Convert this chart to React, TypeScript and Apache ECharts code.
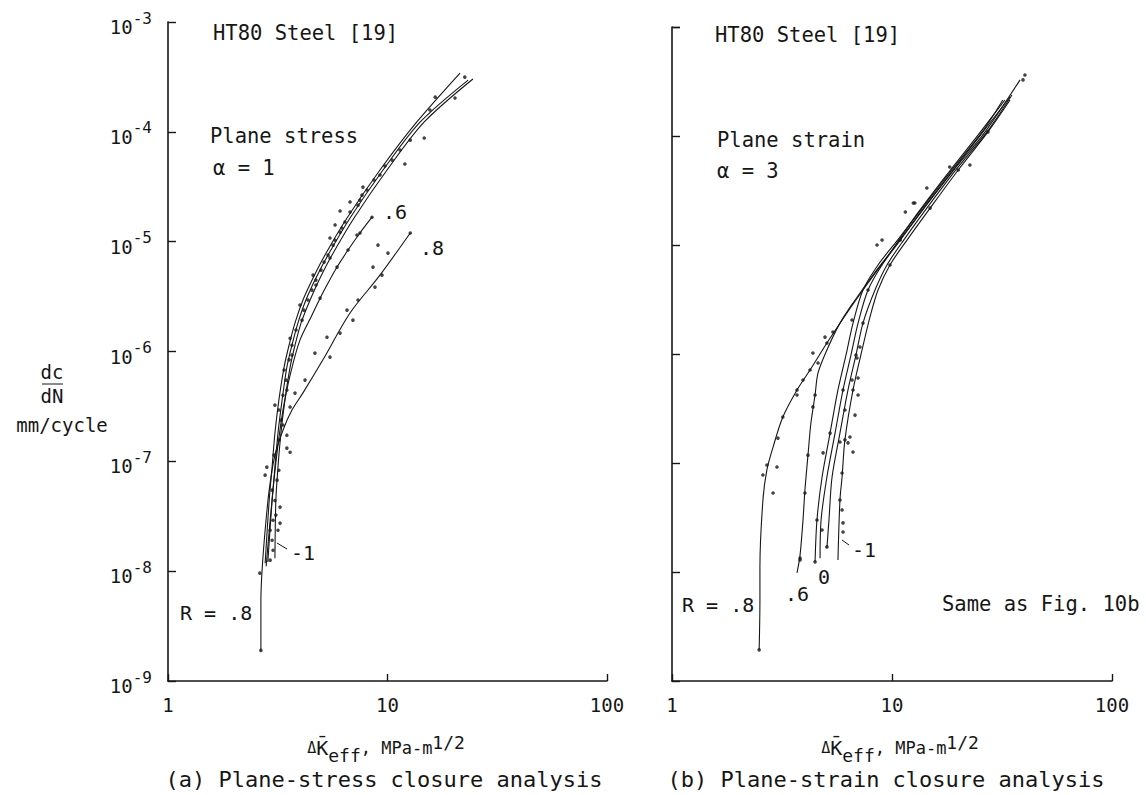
import React, { useEffect, useRef } from "react";
import * as echarts from "echarts";

const FONT = "'DejaVu Sans Mono', 'Liberation Mono', monospace";
const INK = "#161616";

// ---------- (a) plane stress, alpha = 1 : fitted curves [dKeff MPa-m^1/2, dc/dN mm/cycle]
const stressR08 = [[2.65, 1.9e-9], [2.65, 5.4e-9], [2.68, 9.8e-9], [2.77, 2.36e-8], [2.89, 5.47e-8], [3.07, 1.14e-7], [3.34, 1.92e-7], [3.67, 2.93e-7], [4.12, 4.2e-7], [5.08, 8.4e-7], [6.75, 2.24e-6], [9.24, 4.96e-6], [12.7, 1.2e-5]];
const stressR06 = [[2.8, 1.11e-8], [2.92, 2.91e-8], [3.04, 6.74e-8], [3.17, 1.41e-7], [3.34, 2.93e-7], [3.6, 6.1e-7], [3.99, 1.27e-6], [4.53, 2.15e-6], [4.93, 3.06e-6], [5.36, 4.2e-6], [5.89, 5.87e-6], [6.61, 8.39e-6], [7.49, 1.2e-5], [8.5, 1.67e-5]];
const stressRa = [[2.77, 1.18e-8], [2.89, 4.4e-8], [2.98, 8.85e-8], [3.07, 1.81e-7], [3.2, 3.61e-7], [3.38, 7.21e-7], [3.56, 1.14e-6], [3.79, 1.82e-6], [4.12, 2.94e-6], [4.58, 4.66e-6], [5.19, 7.55e-6], [6.54, 1.64e-5], [9.24, 4.49e-5], [13.6, 1.23e-4], [21.4, 3.43e-4]];
const stressR0 = [[2.85, 1.21e-8], [2.98, 4.4e-8], [3.07, 8.85e-8], [3.17, 1.81e-7], [3.31, 3.61e-7], [3.48, 7.21e-7], [3.67, 1.14e-6], [3.91, 1.82e-6], [4.25, 2.94e-6], [4.72, 4.66e-6], [5.36, 7.55e-6], [6.75, 1.64e-5], [9.54, 4.49e-5], [14.1, 1.23e-4], [23.3, 2.96e-4]];
const stressRm1 = [[3.07, 1.31e-8], [3.1, 4.4e-8], [3.17, 8.85e-8], [3.27, 1.81e-7], [3.41, 3.61e-7], [3.6, 7.21e-7], [3.79, 1.14e-6], [4.04, 1.82e-6], [4.44, 2.94e-6], [4.93, 4.66e-6], [5.59, 7.55e-6], [7.04, 1.64e-5], [9.95, 4.49e-5], [14.7, 1.23e-4], [24.5, 3.03e-4]];

// (a) measured points
const stressPoints = [
  [16.5, 2.07e-4], [20.3, 2.03e-4], [22.5, 3.15e-4], [14.7, 8.78e-5], [12.0, 5.09e-5], [9.74, 4.88e-5], [7.73, 3.14e-5],
  [6.75, 2.3e-5], [6.08, 1.9e-5], [5.77, 1.42e-5], [5.47, 1.08e-5], [7.26, 1.15e-5], [9.05, 9.31e-6], [10.05, 7.87e-6],
  [8.59, 5.87e-6], [9.44, 4.96e-6], [8.77, 3.86e-6], [7.34, 2.94e-6], [6.54, 2.38e-6], [6.96, 1.93e-6], [6.08, 1.47e-6],
  [5.3, 1.35e-6], [4.67, 9.67e-7], [5.47, 8.89e-7], [4.21, 5.49e-7], [3.79, 4.18e-7], [3.6, 3.12e-7], [3.48, 1.73e-7],
  [3.07, 3.25e-7], [2.82, 8.85e-8], [2.77, 7.48e-8], [3.6, 1.21e-7], [3.48, 1.32e-7], [3.24, 3.83e-8], [3.24, 2.74e-8],
  [3.17, 2.36e-8], [2.62, 9.6e-9], [2.65, 1.9e-9], [2.98, 1.91e-8], [3.01, 2.91e-8], [3.07, 4.4e-8], [3.14, 6.74e-8],
  [3.2, 1.56e-7], [3.27, 2.37e-7], [3.34, 4.0e-7], [3.45, 5.49e-7], [3.56, 8.4e-7], [3.67, 1.14e-6], [3.83, 1.57e-6],
  [4.16, 2.38e-6], [4.34, 2.94e-6], [4.53, 3.62e-6], [4.72, 4.47e-6], [4.98, 5.5e-6], [5.14, 6.52e-6], [5.36, 7.55e-6],
  [5.65, 9.3e-6], [6.08, 1.22e-5], [6.4, 1.51e-5], [6.75, 1.86e-5], [7.49, 2.39e-5], [8.07, 2.95e-5], [8.68, 3.64e-5],
  [10.5, 5.53e-5], [11.4, 6.83e-5], [5.89, 5.87e-6], [6.61, 8.39e-6], [7.49, 1.2e-5], [8.5, 1.67e-5], [4.93, 3.06e-6],
  [12.7, 1.2e-5], [2.92, 1.26e-8], [3.01, 1.55e-8], [2.92, 2.36e-8], [3.1, 3.24e-8], [2.98, 5.47e-8], [3.2, 8.3e-8],
  [3.04, 1.14e-7], [3.34, 2.14e-7], [3.2, 2.93e-7], [3.48, 4.45e-7], [3.38, 6.78e-7], [3.67, 9.27e-7], [3.6, 1.32e-6],
  [4.08, 1.93e-6], [3.99, 2.65e-6], [4.72, 4.03e-6], [4.58, 4.96e-6], [5.47, 7.1e-6], [5.77, 1.03e-5], [6.2, 1.33e-5],
  [7.34, 2.15e-5], [7.65, 2.65e-5], [9.24, 4.05e-5], [12.7, 8.41e-5], [15.6, 1.58e-4]
];

// ---------- (b) plane strain, alpha = 3 : fitted curves
const strainR08 = [[2.49, 1.93e-9], [2.51, 5.53e-9], [2.51, 1.11e-8], [2.59, 4.58e-8], [2.7, 8.63e-8], [2.88, 1.4e-7], [3.19, 2.64e-7], [3.7, 4.68e-7], [4.24, 7.13e-7], [5.06, 1.26e-6], [6.24, 2.38e-6], [7.78, 4.48e-6], [9.79, 8.45e-6], [13.1, 1.97e-5], [18.0, 4.58e-5], [24.6, 1.02e-4], [32.6, 2.14e-4]];
const strainR06 = [[3.7, 9.8e-9], [3.82, 1.43e-8], [3.94, 3.0e-8], [4.02, 5.65e-8], [4.15, 1.18e-7], [4.28, 2.33e-7], [4.47, 4.21e-7], [4.61, 6.7e-7], [5.06, 1.09e-6], [5.8, 1.92e-6], [6.65, 2.94e-6], [8.2, 5.31e-6], [10.3, 9.6e-6], [13.7, 2.09e-5], [18.7, 4.68e-5], [25.7, 1.07e-4], [34.4, 2.28e-4]];
const strainRa = [[4.47, 1.24e-8], [4.56, 3.0e-8], [4.81, 7.44e-8], [5.23, 1.88e-7], [5.68, 4.68e-7], [6.18, 9.8e-7], [6.65, 1.92e-6], [7.38, 3.86e-6], [8.64, 6.56e-6], [10.6, 1.11e-5], [13.7, 2.18e-5], [18.7, 4.88e-5], [25.7, 1.09e-4], [31.9, 2.14e-4]];
const strainRb = [[4.71, 1.34e-8], [4.76, 3.0e-8], [5.06, 7.44e-8], [5.51, 1.88e-7], [5.99, 4.68e-7], [6.51, 9.8e-7], [7.01, 1.92e-6], [7.78, 3.86e-6], [9.01, 6.56e-6], [10.9, 1.11e-5], [14.0, 2.18e-5], [19.1, 4.88e-5], [26.5, 1.09e-4], [38.2, 3.27e-4]];
const strainR0 = [[5.06, 1.66e-8], [5.17, 3.0e-8], [5.34, 7.44e-8], [5.8, 1.88e-7], [6.31, 4.68e-7], [6.86, 9.8e-7], [7.38, 1.92e-6], [8.37, 3.86e-6], [9.49, 6.56e-6], [11.3, 1.11e-5], [14.4, 2.18e-5], [19.5, 4.88e-5], [27.0, 1.09e-4], [35.1, 2.38e-4]];
const strainRm1 = [[5.68, 1.29e-8], [5.8, 4.58e-8], [5.93, 7.44e-8], [6.11, 1.63e-7], [6.65, 4.68e-7], [7.31, 1.09e-6], [7.94, 2.18e-6], [8.64, 3.86e-6], [9.79, 6.56e-6], [11.7, 1.11e-5], [14.9, 2.18e-5], [20.0, 4.88e-5], [27.3, 1.09e-4], [34.4, 2.14e-4]];

// (b) measured points
const strainPoints = [
  [2.49, 1.93e-9], [2.59, 7.76e-8], [2.7, 9.59e-8], [3.0, 9.19e-8], [2.88, 5.31e-8], [3.03, 1.69e-7], [3.7, 4.21e-7],
  [4.37, 3.27e-7], [4.37, 1.02e-6], [4.61, 8.27e-7], [3.94, 5.77e-7], [4.96, 1.43e-6], [5.39, 1.59e-6], [6.58, 2.05e-6],
  [7.01, 4.21e-7], [6.79, 2.75e-7], [6.44, 1.73e-7], [6.31, 1.53e-7], [6.65, 1.26e-7], [5.93, 8.09e-8], [5.93, 3.71e-8],
  [5.99, 2.82e-8], [5.99, 2.33e-8], [3.82, 1.34e-8], [4.47, 1.24e-8], [5.06, 1.7e-8], [4.81, 2.43e-8], [4.02, 5.31e-8],
  [7.01, 6.02e-7], [6.93, 9.19e-7], [7.15, 1.16e-6], [6.58, 5.77e-7], [6.11, 3.06e-7], [5.8, 1.56e-7], [4.86, 1.24e-7],
  [8.55, 1.0e-5], [9.01, 1.11e-5], [11.5, 2.01e-5], [14.4, 3.33e-5], [12.5, 2.43e-5], [18.3, 5.2e-5], [22.6, 5.42e-5],
  [12.7, 2.43e-5], [40.2, 3.63e-4], [39.4, 3.27e-4], [3.19, 2.64e-7], [3.7, 4.68e-7], [4.24, 7.13e-7], [5.06, 1.26e-6],
  [3.82, 1.29e-8], [4.15, 1.18e-7], [4.47, 4.21e-7], [4.56, 3.0e-8], [5.23, 1.88e-7], [5.99, 4.68e-7], [6.86, 9.8e-7],
  [7.38, 1.92e-6], [7.78, 3.86e-6], [9.79, 6.56e-6], [10.9, 1.11e-5], [14.9, 2.18e-5], [20.0, 4.88e-5], [27.3, 1.09e-4],
  [5.8, 4.58e-8], [6.11, 1.63e-7], [6.65, 4.68e-7]
];

function line(name: string, data: number[][], idx: number) {
  return {
    type: "line", name, data, xAxisIndex: idx, yAxisIndex: idx,
    showSymbol: false, symbol: "none", smooth: 0.3, silent: true, z: 2,
    lineStyle: { color: INK, width: 1.1 },
  };
}
function dots(name: string, data: number[][], idx: number) {
  return {
    type: "scatter", name, data, xAxisIndex: idx, yAxisIndex: idx,
    symbol: "circle", symbolSize: 3.6, silent: true, z: 3,
    itemStyle: { color: INK },
  };
}

function xAxis(gi: number) {
  return {
    type: "log", logBase: 10, gridIndex: gi, min: 1, max: 100,
    axisLine: { lineStyle: { color: INK, width: 1.6 } },
    axisTick: { inside: true, length: 7, lineStyle: { color: INK, width: 1.4 } },
    axisLabel: { color: INK, fontFamily: FONT, fontSize: 19, margin: 14, formatter: (v: number) => String(Math.round(v)) },
    splitLine: { show: false },
  };
}
function yAxis(gi: number, labels: boolean) {
  return {
    type: "log", logBase: 10, gridIndex: gi, min: 1e-9, max: 1e-3,
    axisLine: { lineStyle: { color: INK, width: 1.6 } },
    axisTick: { inside: true, length: 8, lineStyle: { color: INK, width: 1.4 } },
    axisLabel: {
      show: labels, color: INK, fontFamily: FONT, margin: 16,
      formatter: (v: number) => `{a|10}{b|${Math.round(Math.log10(v))}}`,
      rich: {
        a: { fontSize: 19, fontFamily: FONT, color: INK, padding: [10, 0, 0, 0] },
        b: { fontSize: 16, fontFamily: FONT, color: INK, padding: [0, 0, 8, 0] },
      },
    },
    splitLine: { show: false },
  };
}

function txt(text: string, x: number, y: number, size = 20, align = "left") {
  return {
    type: "text", x, y, silent: true,
    style: { text, fontFamily: FONT, fontSize: size, fill: INK, textAlign: align, textVerticalAlign: "middle" },
  };
}
function titleX(cx: number, cy: number) {
  return {
    type: "text", x: cx, y: cy, silent: true,
    style: {
      text: "{d|Δ}{k|K\u0304}{s|eff}{c|, MPa-m}{p|1/2}",
      textAlign: "center", textVerticalAlign: "middle", fill: INK,
      rich: {
        d: { fontFamily: FONT, fontSize: 15, fill: INK },
        k: { fontFamily: FONT, fontSize: 20, fill: INK },
        s: { fontFamily: FONT, fontSize: 18, fill: INK, padding: [14, 0, 0, 0] },
        c: { fontFamily: FONT, fontSize: 17, fill: INK },
        p: { fontFamily: FONT, fontSize: 18, fill: INK, padding: [0, 0, 12, 0] },
      },
    },
  };
}
function leader(x1: number, y1: number, x2: number, y2: number) {
  return { type: "line", silent: true, shape: { x1, y1, x2, y2 }, style: { stroke: INK, lineWidth: 1 } };
}

export default function App() {
  const ref = useRef<HTMLDivElement>(null);
  useEffect(() => {
    if (!ref.current) return;
    const chart = echarts.init(ref.current, null, { renderer: "svg" });
    chart.setOption({
      animation: false,
      backgroundColor: "#ffffff",
      grid: [
        { left: 168, top: 22, width: 439, height: 659 },
        { left: 672, top: 27, width: 440, height: 654 },
      ],
      xAxis: [xAxis(0), xAxis(1)],
      yAxis: [yAxis(0, true), yAxis(1, false)],
      series: [
        line("(a) R = .8", stressR08, 0),
        line("(a) R = .6", stressR06, 0),
        line("(a) unlabelled R", stressRa, 0),
        line("(a) R = 0", stressR0, 0),
        line("(a) R = -1", stressRm1, 0),
        dots("(a) data", stressPoints, 0),
        line("(b) R = .8", strainR08, 1),
        line("(b) R = .6", strainR06, 1),
        line("(b) unlabelled R", strainRa, 1),
        line("(b) unlabelled R 2", strainRb, 1),
        line("(b) R = 0", strainR0, 1),
        line("(b) R = -1", strainRm1, 1),
        dots("(b) data", strainPoints, 1),
      ],
      graphic: [
        txt("HT80 Steel [19]", 213, 33, 20.5),
        txt("Plane stress", 210, 136, 20.5),
        txt("α = 1", 213, 168, 20.5),
        txt(".6", 383, 212),
        txt(".8", 420, 248),
        txt("-1", 291, 553),
        txt("R = .8", 180, 613),
        leader(277, 543, 287, 549),
        txt("HT80 Steel [19]", 715, 35, 20.5),
        txt("Plane strain", 717, 140, 20.5),
        txt("α = 3", 717, 171, 20.5),
        txt("R = .8", 682, 605),
        txt(".6", 785, 594),
        txt("0", 818, 577),
        txt("-1", 852, 550),
        leader(842, 540, 849, 545),
        txt("Same as Fig. 10b", 942, 604, 20.5),
        txt("dc", 52, 372, 19, "center"),
        leader(42, 384, 63, 384),
        txt("dN", 52, 396, 19, "center"),
        txt("mm/cycle", 62, 425, 19, "center"),
        titleX(386, 748),
        titleX(900, 748),
        txt("(a) Plane-stress closure analysis", 384, 779, 22, "center"),
        txt("(b) Plane-strain closure analysis", 886, 779, 22, "center"),
      ],
    });
    return () => chart.dispose();
  }, []);
  return <div ref={ref} style={{ position: "absolute", left: 0, top: 0, width: 1146, height: 795, background: "#fff" }} />;
}
